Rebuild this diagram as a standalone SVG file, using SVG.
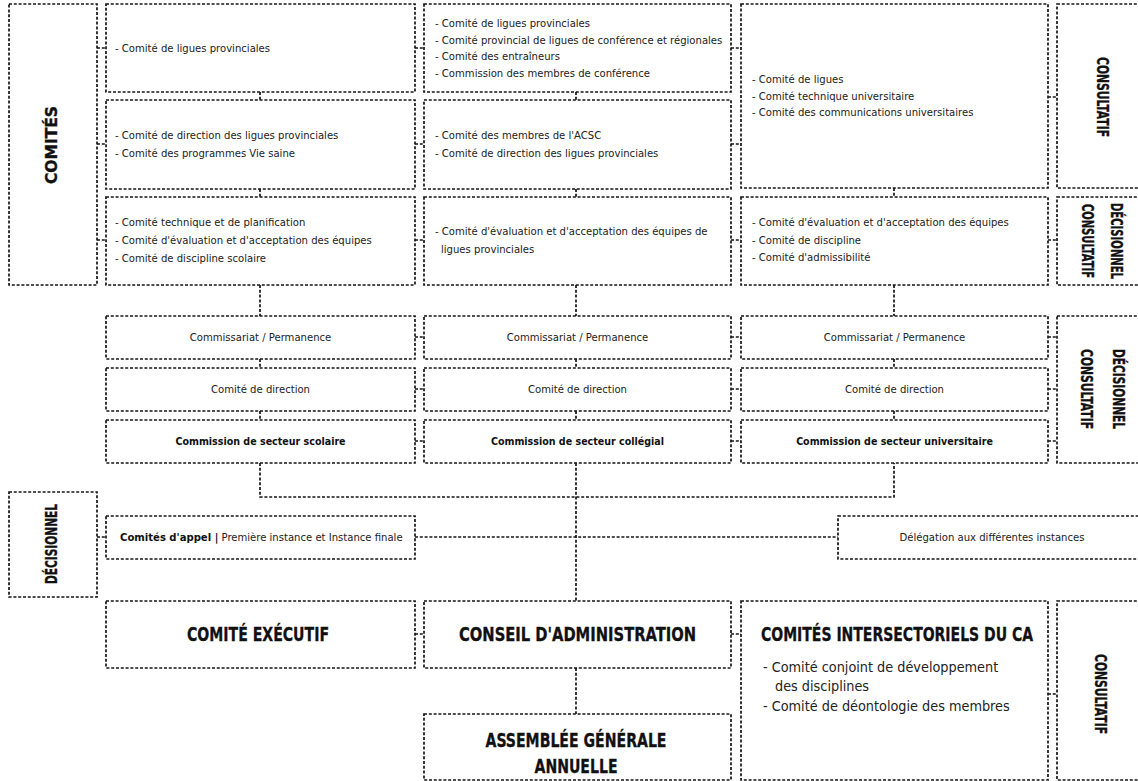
<svg xmlns="http://www.w3.org/2000/svg" width="1138" height="781" viewBox="0 0 1138 781">
<style>
.b{fill:#fff;stroke:#151515;stroke-width:1.7;stroke-dasharray:3 1.8}
.c{fill:none;stroke:#151515;stroke-width:1.7;stroke-dasharray:3 1.8}
text{font-family:"DejaVu Sans Condensed","DejaVu Sans",sans-serif;font-stretch:condensed;fill:#222}
.s{font-size:11.2px}
.m{font-size:11.2px;text-anchor:middle}
.mb{font-size:10.6px;text-anchor:middle;font-weight:bold;fill:#111}
.h{font-size:20px;font-weight:bold;text-anchor:middle;fill:#111;stroke:#111;stroke-width:0.3}
.l{font-size:15px;font-weight:bold;text-anchor:middle;fill:#111;stroke:#111;stroke-width:0.35}
.i{font-size:14.3px}
</style>
<rect width="1138" height="781" fill="#fff"/>
<g id="connectors">
<path class="c" d="M97 48H106M97 144H106M97 240H106M415 48H424M415 144H424M415 240H424M731 48H741M731 144H741M731 240H741M1048 97H1057M1048 240H1057"/>
<path class="c" d="M260 92V100M260 189V197M576 92V100M576 189V197M894 188V197M260 285V316M576 285V316M894 285V316"/>
<path class="c" d="M415 337H424M415 389H424M415 441H424M731 337H741M731 389H741M731 441H741M1048 337H1057M1048 389H1057M1048 441H1057"/>
<path class="c" d="M260 359V368M260 411V420M576 359V368M576 411V420M894 359V368M894 411V420"/>
<path class="c" d="M260 463V497H894V463M576 463V601"/>
<path class="c" d="M97 537H106M415 537H838"/>
<path class="c" d="M415 634H424M731 634H741M1048 694H1057M576 668V714"/>
</g>
<g id="comites">
<rect class="b" x="9" y="4" width="88" height="281"/>
<text class="l" transform="translate(51,145) rotate(-90)" y="6" font-size="16.5" textLength="78" lengthAdjust="spacingAndGlyphs">COMITÉS</text>
</g>
<g id="scol-r1"><rect class="b" x="106" y="4" width="309" height="88"/>
<text class="s" x="115" y="52">- Comité de ligues provinciales</text></g>
<g id="scol-r2"><rect class="b" x="106" y="100" width="309" height="89"/>
<text class="s" x="115" y="139">- Comité de direction des ligues provinciales</text>
<text class="s" x="115" y="157">- Comité des programmes Vie saine</text></g>
<g id="scol-r3"><rect class="b" x="106" y="197" width="309" height="88"/>
<text class="s" x="115" y="226">- Comité technique et de planification</text>
<text class="s" x="115" y="244">- Comité d'évaluation et d'acceptation des équipes</text>
<text class="s" x="115" y="262">- Comité de discipline scolaire</text></g>
<g id="coll-r1"><rect class="b" x="424" y="4" width="307" height="88"/>
<text class="s" x="435" y="27">- Comité de ligues provinciales</text>
<text class="s" x="435" y="44">- Comité provincial de ligues de conférence et régionales</text>
<text class="s" x="435" y="60">- Comité des entraîneurs</text>
<text class="s" x="435" y="77">- Commission des membres de conférence</text></g>
<g id="coll-r2"><rect class="b" x="424" y="100" width="307" height="89"/>
<text class="s" x="435" y="139">- Comité des membres de l'ACSC</text>
<text class="s" x="435" y="157">- Comité de direction des ligues provinciales</text></g>
<g id="coll-r3"><rect class="b" x="424" y="197" width="307" height="88"/>
<text class="s" x="435" y="235">- Comité d'évaluation et d'acceptation des équipes de</text>
<text class="s" x="441" y="253">ligues provinciales</text></g>
<g id="univ-r1"><rect class="b" x="741" y="4" width="307" height="184"/>
<text class="s" x="752" y="83">- Comité de ligues</text>
<text class="s" x="752" y="100">- Comité technique universitaire</text>
<text class="s" x="752" y="116">- Comité des communications universitaires</text></g>
<g id="univ-r3"><rect class="b" x="741" y="197" width="307" height="88"/>
<text class="s" x="752" y="226">- Comité d'évaluation et d'acceptation des équipes</text>
<text class="s" x="752" y="244">- Comité de discipline</text>
<text class="s" x="752" y="261">- Comité d'admissibilité</text></g>
<g id="label-top"><rect class="b" x="1057" y="4" width="90" height="184"/>
<text class="l" transform="translate(1102,97) rotate(90)" y="5.4" textLength="80" lengthAdjust="spacingAndGlyphs">CONSULTATIF</text></g>
<g id="label-r3"><rect class="b" x="1057" y="197" width="90" height="88"/>
<text class="l" transform="translate(1087,241) rotate(90)" y="5.4" textLength="74" lengthAdjust="spacingAndGlyphs">CONSULTATIF</text>
<text class="l" transform="translate(1116,241) rotate(90)" y="5.4" textLength="76" lengthAdjust="spacingAndGlyphs">DÉCISIONNEL</text></g>
<g id="scol-perm"><rect class="b" x="106" y="316" width="309" height="43"/><text class="m" x="260.5" y="341">Commissariat / Permanence</text></g>
<g id="scol-dir"><rect class="b" x="106" y="368" width="309" height="43"/><text class="m" x="260.5" y="393">Comité de direction</text></g>
<g id="scol-com"><rect class="b" x="106" y="420" width="309" height="43"/><text class="mb" x="260.5" y="445">Commission de secteur scolaire</text></g>
<g id="coll-perm"><rect class="b" x="424" y="316" width="307" height="43"/><text class="m" x="577.5" y="341">Commissariat / Permanence</text></g>
<g id="coll-dir"><rect class="b" x="424" y="368" width="307" height="43"/><text class="m" x="577.5" y="393">Comité de direction</text></g>
<g id="coll-com"><rect class="b" x="424" y="420" width="307" height="43"/><text class="mb" x="577.5" y="445">Commission de secteur collégial</text></g>
<g id="univ-perm"><rect class="b" x="741" y="316" width="307" height="43"/><text class="m" x="894.5" y="341">Commissariat / Permanence</text></g>
<g id="univ-dir"><rect class="b" x="741" y="368" width="307" height="43"/><text class="m" x="894.5" y="393">Comité de direction</text></g>
<g id="univ-com"><rect class="b" x="741" y="420" width="307" height="43"/><text class="mb" x="894.5" y="445">Commission de secteur universitaire</text></g>
<g id="label-mid"><rect class="b" x="1057" y="316" width="90" height="147"/>
<text class="l" transform="translate(1086,389) rotate(90)" y="5.4" textLength="80" lengthAdjust="spacingAndGlyphs">CONSULTATIF</text>
<text class="l" transform="translate(1118,389) rotate(90)" y="5.4" textLength="80" lengthAdjust="spacingAndGlyphs">DÉCISIONNEL</text></g>
<g id="label-dec"><rect class="b" x="9" y="492" width="88" height="105"/>
<text class="l" transform="translate(52,544) rotate(-90)" y="5.4" textLength="80" lengthAdjust="spacingAndGlyphs">DÉCISIONNEL</text></g>
<g id="appel"><rect class="b" x="106" y="516" width="309" height="43"/>
<text class="s" x="120" y="541" font-size="10.8"><tspan font-weight="bold" fill="#111">Comités d'appel |</tspan> Première instance et Instance finale</text></g>
<g id="delegation"><rect class="b" x="838" y="516" width="310" height="43"/>
<text class="m" x="992" y="541">Délégation aux différentes instances</text></g>
<g id="executif"><rect class="b" x="106" y="601" width="309" height="67"/>
<text class="h" x="258" y="641" textLength="142" lengthAdjust="spacingAndGlyphs">COMITÉ EXÉCUTIF</text></g>
<g id="conseil"><rect class="b" x="424" y="601" width="307" height="67"/>
<text class="h" x="577.5" y="641" textLength="237" lengthAdjust="spacingAndGlyphs">CONSEIL D'ADMINISTRATION</text></g>
<g id="assemblee"><rect class="b" x="424" y="714" width="307" height="66"/>
<text class="h" x="576" y="747" textLength="181" lengthAdjust="spacingAndGlyphs">ASSEMBLÉE GÉNÉRALE</text>
<text class="h" x="576" y="773" textLength="83" lengthAdjust="spacingAndGlyphs">ANNUELLE</text></g>
<g id="intersectoriels"><rect class="b" x="741" y="601" width="307" height="179"/>
<text class="h" x="897" y="641" textLength="272" lengthAdjust="spacingAndGlyphs">COMITÉS INTERSECTORIELS DU CA</text>
<text class="i" x="763" y="672">- Comité conjoint de développement</text>
<text class="i" x="775" y="691">des disciplines</text>
<text class="i" x="763" y="711">- Comité de déontologie des membres</text></g>
<g id="label-bottom"><rect class="b" x="1057" y="601" width="90" height="179"/>
<text class="l" transform="translate(1100,694) rotate(90)" y="5.4" textLength="80" lengthAdjust="spacingAndGlyphs">CONSULTATIF</text></g>
</svg>
